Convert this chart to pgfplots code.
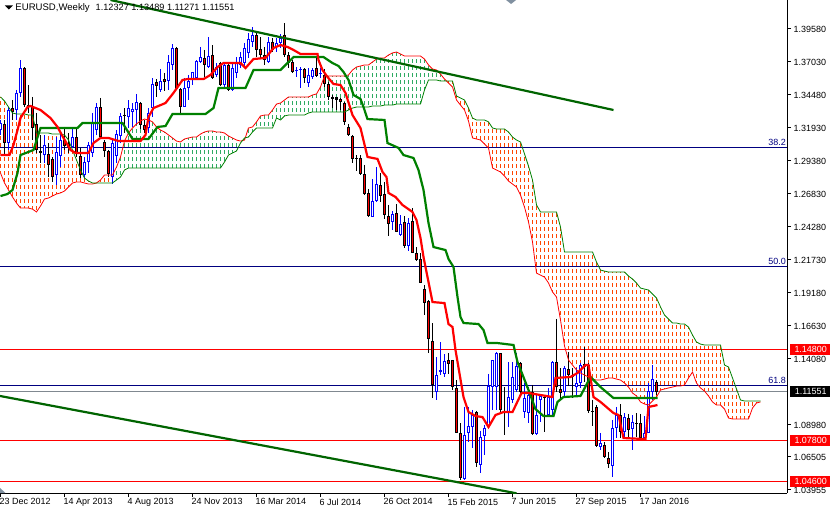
\documentclass[border=0pt]{standalone}
\usepackage{fontspec}
\setmainfont{Liberation Sans}
\usepackage{pgfplots}
\usepackage{pgfplotstable}
\pgfplotsset{compat=1.18}
\definecolor{trend}{HTML}{006400}
\definecolor{kijun}{HTML}{008000}
\definecolor{hatchg}{HTML}{2EAB62}
\definecolor{hatcho}{HTML}{FF4500}
\definecolor{marker}{HTML}{8090A0}
\definecolor{navy}{HTML}{000080}
\definecolor{lastline}{HTML}{808890}
\pgfplotstableread{
i t b h l
0 1.3232 1.3177 1.3255 1.3139
2 1.3332 1.3077 1.3355 1.3023
4 1.3464 1.3332 1.3487 1.3255
5 1.3656 1.3464 1.3718 1.3433
11 1.3062 1.2984 1.3139 1.2923
14 1.3008 1.2829 1.3123 1.2752
15 1.3100 1.2977 1.3154 1.2891
18 1.3123 1.3046 1.3193 1.3039
21 1.2930 1.2829 1.2969 1.2806
22 1.3062 1.2930 1.3085 1.2845
23 1.3240 1.3000 1.3309 1.2969
24 1.3355 1.3177 1.3386 1.3139
28 1.3077 1.2814 1.3100 1.2760
29 1.3146 1.2977 1.3177 1.2923
30 1.3286 1.3131 1.3309 1.3077
32 1.3347 1.3278 1.3409 1.3193
33 1.3340 1.3317 1.3386 1.3201
34 1.3394 1.3332 1.3456 1.3216
37 1.3309 1.3193 1.3347 1.3154
38 1.3533 1.3347 1.3579 1.3278
40 1.3556 1.3487 1.3649 1.3471
42 1.3703 1.3556 1.3757 1.3487
43 1.3811 1.3680 1.3842 1.3641
46 1.3502 1.3355 1.3579 1.3355
47 1.3556 1.3502 1.3603 1.3409
48 1.3626 1.3564 1.3626 1.3525
49 1.3711 1.3579 1.3718 1.3564
50 1.3741 1.3703 1.3819 1.3695
52 1.3749 1.3664 1.3896 1.3656
54 1.3664 1.3603 1.3695 1.3587
56 1.3680 1.3525 1.3695 1.3510
58 1.3656 1.3487 1.3695 1.3479
59 1.3695 1.3618 1.3741 1.3579
60 1.3741 1.3680 1.3780 1.3656
61 1.3811 1.3695 1.3850 1.3672
62 1.3881 1.3773 1.3927 1.3734
63 1.3912 1.3858 1.3973 1.3819
67 1.3858 1.3703 1.3896 1.3695
69 1.3850 1.3819 1.3888 1.3780
70 1.3888 1.3850 1.3919 1.3811
74 1.3641 1.3633 1.3664 1.3587
75 1.3649 1.3641 1.3664 1.3502
77 1.3603 1.3541 1.3656 1.3510
78 1.3641 1.3587 1.3656 1.3571
80 1.3618 1.3610 1.3656 1.3579
93 1.2629 1.2505 1.2799 1.2505
94 1.2760 1.2629 1.2891 1.2621
98 1.2528 1.2467 1.2551 1.2405
100 1.2451 1.2366 1.2520 1.2358
102 1.2459 1.2281 1.2497 1.2242
109 1.1284 1.1153 1.1423 1.1091
110 1.1323 1.1307 1.1539 1.1284
111 1.1392 1.1292 1.1446 1.1269
116 1.0820 1.0480 1.1037 1.0473
117 1.0890 1.0836 1.1037 1.0766
118 1.0975 1.0882 1.1014 1.0720
120 1.0805 1.0588 1.0851 1.0527
121 1.0874 1.0813 1.0898 1.0666
122 1.1199 1.0882 1.1292 1.0874
123 1.1400 1.1191 1.1400 1.1014
124 1.1454 1.1191 1.1462 1.1014
127 1.1114 1.0998 1.1384 1.0882
128 1.1269 1.1091 1.1384 1.1068
129 1.1353 1.1168 1.1454 1.1153
131 1.1106 1.0998 1.1222 1.0952
132 1.1129 1.0990 1.1191 1.0913
134 1.0975 1.0828 1.1129 1.0820
135 1.1122 1.1091 1.1122 1.0921
137 1.1114 1.0975 1.1184 1.0959
138 1.1384 1.1014 1.1392 1.0975
141 1.1338 1.1153 1.1354 1.1114
144 1.1222 1.1191 1.1338 1.1114
145 1.1361 1.1222 1.1377 1.1184
150 1.0758 1.0727 1.0836 1.0704
153 1.0874 1.0581 1.0936 1.0496
154 1.0975 1.0874 1.1037 1.0797
156 1.0959 1.0844 1.0990 1.0797
158 1.0921 1.0867 1.0975 1.0704
161 1.0836 1.0797 1.0967 1.0789
162 1.1160 1.0836 1.1222 1.0836
163 1.1253 1.1153 1.1361 1.1091
}\upbars
\pgfplotstableread{
i t b h l
1 1.3224 1.3077 1.3255 1.2984
3 1.3347 1.3317 1.3409 1.3255
6 1.3656 1.3370 1.3664 1.3355
7 1.3370 1.3355 1.3525 1.3309
8 1.3355 1.3193 1.3433 1.3100
9 1.3224 1.3023 1.3309 1.3000
10 1.3015 1.3000 1.3139 1.2923
12 1.2992 1.2907 1.3077 1.2814
13 1.2954 1.2814 1.2969 1.2776
16 1.3100 1.3054 1.3201 1.3023
17 1.3077 1.3046 1.3154 1.3000
19 1.3123 1.2992 1.3193 1.2969
20 1.2977 1.2829 1.3039 1.2806
25 1.3355 1.3123 1.3425 1.3123
26 1.3085 1.3015 1.3100 1.2969
27 1.3015 1.2837 1.3023 1.2814
31 1.3293 1.3286 1.3347 1.3154
35 1.3386 1.3216 1.3394 1.3185
36 1.3216 1.3177 1.3255 1.3154
39 1.3548 1.3517 1.3571 1.3433
41 1.3571 1.3548 1.3618 1.3479
44 1.3811 1.3494 1.3819 1.3487
45 1.3494 1.3355 1.3502 1.3309
51 1.3734 1.3680 1.3796 1.3587
53 1.3757 1.3579 1.3834 1.3571
55 1.3695 1.3525 1.3703 1.3517
57 1.3680 1.3487 1.3695 1.3479
64 1.3912 1.3796 1.3935 1.3741
65 1.3803 1.3757 1.3896 1.3734
66 1.3757 1.3718 1.3819 1.3680
68 1.3858 1.3796 1.3888 1.3780
71 1.3912 1.3757 1.4004 1.3741
72 1.3757 1.3695 1.3780 1.3656
73 1.3703 1.3626 1.3718 1.3618
76 1.3649 1.3579 1.3656 1.3541
79 1.3656 1.3595 1.3741 1.3587
81 1.3603 1.3533 1.3649 1.3510
82 1.3533 1.3433 1.3548 1.3409
83 1.3433 1.3417 1.3448 1.3347
84 1.3429 1.3413 1.3433 1.3332
85 1.3417 1.3394 1.3425 1.3332
86 1.3386 1.3240 1.3394 1.3216
87 1.3201 1.3139 1.3224 1.3131
88 1.3131 1.2954 1.3139 1.2923
89 1.2961 1.2954 1.2984 1.2860
90 1.2961 1.2837 1.2984 1.2829
91 1.2837 1.2683 1.2907 1.2675
92 1.2691 1.2513 1.2722 1.2505
95 1.2752 1.2668 1.2845 1.2621
96 1.2683 1.2520 1.2776 1.2490
97 1.2513 1.2451 1.2598 1.2358
99 1.2536 1.2389 1.2605 1.2389
101 1.2467 1.2281 1.2513 1.2266
103 1.2474 1.2227 1.2574 1.2227
104 1.2227 1.2173 1.2273 1.2165
105 1.2181 1.1995 1.2227 1.1995
106 1.1949 1.1840 1.1980 1.1748
107 1.1856 1.1562 1.1864 1.1454
108 1.1547 1.1207 1.1686 1.1106
112 1.1400 1.1369 1.1454 1.1292
113 1.1400 1.1191 1.1400 1.1168
114 1.1184 1.0836 1.1245 1.0836
115 1.0836 1.0488 1.0913 1.0473
119 1.0998 1.0604 1.1006 1.0573
125 1.1454 1.1014 1.1454 1.0998
126 1.0998 1.0990 1.1191 1.0820
130 1.1377 1.1153 1.1384 1.1145
133 1.1153 1.0828 1.1207 1.0820
136 1.1114 1.1106 1.1114 1.0843
139 1.1384 1.1191 1.1717 1.1153
140 1.1176 1.1145 1.1338 1.1099
142 1.1330 1.1284 1.1462 1.1199
143 1.1284 1.1269 1.1338 1.1106
146 1.1369 1.1346 1.1500 1.1230
147 1.1361 1.1006 1.1377 1.0990
148 1.1006 1.0998 1.1091 1.0890
149 1.1037 1.0735 1.1052 1.0727
151 1.0743 1.0650 1.0766 1.0642
152 1.0642 1.0596 1.0689 1.0565
155 1.0975 1.0844 1.1060 1.0797
157 1.0952 1.0859 1.0983 1.0797
159 1.0913 1.0905 1.0990 1.0805
160 1.0913 1.0797 1.0983 1.0797
164 1.1230 1.1155 1.1245 1.1129
}\downbars
\pgfplotstableread{
i a b
0 1.2845 1.3433
1 1.2768 1.3402
2 1.2714 1.3355
3 1.2660 1.3309
4 1.2613 1.3301
5 1.2574 1.3301
6 1.2574 1.3301
7 1.2574 1.3293
8 1.2566 1.3293
9 1.2544 1.3154
10 1.2590 1.3154
11 1.2644 1.3154
12 1.2652 1.3154
13 1.2668 1.3146
14 1.2683 1.3146
15 1.2691 1.3146
16 1.2706 1.3139
17 1.2737 1.3100
18 1.2768 1.3023
19 1.2776 1.2946
20 1.2776 1.2868
21 1.2768 1.2806
22 1.2760 1.2783
23 1.2760 1.2768
24 1.2768 1.2768
25 1.2791 1.2768
26 1.2829 1.2768
27 1.2829 1.2768
28 1.2829 1.2768
29 1.2891 1.2791
30 1.2969 1.2814
31 1.3092 1.2868
32 1.3154 1.2884
33 1.3193 1.2884
34 1.3224 1.2884
35 1.3247 1.2884
36 1.3262 1.2884
37 1.3255 1.2884
38 1.3240 1.2884
39 1.3201 1.2884
40 1.3177 1.2884
41 1.3162 1.2884
42 1.3139 1.2884
43 1.3116 1.2884
44 1.3092 1.2884
45 1.3085 1.2884
46 1.3108 1.2884
47 1.3116 1.2884
48 1.3123 1.2884
49 1.3123 1.2884
50 1.3146 1.2884
51 1.3162 1.2884
52 1.3170 1.2884
53 1.3170 1.2884
54 1.3162 1.2884
55 1.3162 1.2884
56 1.3154 1.2930
57 1.3131 1.2984
58 1.3116 1.3000
59 1.3100 1.3015
60 1.3092 1.3077
61 1.3100 1.3116
62 1.3193 1.3123
63 1.3201 1.3162
64 1.3240 1.3193
65 1.3286 1.3193
66 1.3293 1.3193
67 1.3293 1.3193
68 1.3332 1.3193
69 1.3378 1.3270
70 1.3386 1.3255
71 1.3409 1.3286
72 1.3433 1.3293
73 1.3433 1.3293
74 1.3433 1.3293
75 1.3433 1.3293
76 1.3433 1.3293
77 1.3433 1.3309
78 1.3448 1.3317
79 1.3456 1.3317
80 1.3510 1.3317
81 1.3595 1.3317
82 1.3595 1.3317
83 1.3595 1.3317
84 1.3595 1.3317
85 1.3595 1.3317
86 1.3595 1.3317
87 1.3603 1.3332
88 1.3641 1.3347
89 1.3664 1.3355
90 1.3672 1.3355
91 1.3680 1.3355
92 1.3680 1.3355
93 1.3703 1.3363
94 1.3726 1.3363
95 1.3734 1.3363
96 1.3734 1.3370
97 1.3757 1.3370
98 1.3773 1.3370
99 1.3780 1.3378
100 1.3765 1.3378
101 1.3749 1.3378
102 1.3749 1.3378
103 1.3749 1.3378
104 1.3749 1.3378
105 1.3749 1.3378
106 1.3726 1.3487
107 1.3680 1.3564
108 1.3649 1.3564
109 1.3641 1.3564
110 1.3610 1.3556
111 1.3571 1.3556
112 1.3541 1.3556
113 1.3510 1.3556
114 1.3409 1.3440
115 1.3370 1.3425
116 1.3332 1.3409
117 1.3247 1.3347
118 1.3116 1.3270
119 1.3108 1.3255
120 1.3100 1.3255
121 1.3069 1.3255
122 1.3039 1.3240
123 1.2884 1.3193
124 1.2868 1.3185
125 1.2853 1.3185
126 1.2822 1.3185
127 1.2783 1.3162
128 1.2760 1.3123
129 1.2737 1.3100
130 1.2675 1.3085
131 1.2582 1.2992
132 1.2467 1.2899
133 1.2312 1.2791
134 1.2072 1.2598
135 1.2056 1.2544
136 1.2041 1.2544
137 1.1995 1.2544
138 1.1926 1.2544
139 1.1887 1.2544
140 1.1709 1.2428
141 1.1508 1.2235
142 1.1400 1.2235
143 1.1361 1.2235
144 1.1323 1.2235
145 1.1300 1.2235
146 1.1284 1.2235
147 1.1269 1.2235
148 1.1253 1.2235
149 1.1245 1.2157
150 1.1245 1.2095
151 1.1253 1.2087
152 1.1261 1.2080
153 1.1261 1.2080
154 1.1253 1.2080
155 1.1245 1.2080
156 1.1222 1.2080
157 1.1191 1.2049
158 1.1145 1.2026
159 1.1122 1.1995
160 1.1076 1.1956
161 1.1060 1.1948
162 1.1052 1.1941
163 1.1083 1.1910
164 1.1114 1.1879
165 1.1168 1.1810
166 1.1176 1.1748
167 1.1184 1.1717
168 1.1191 1.1686
169 1.1199 1.1686
170 1.1199 1.1678
171 1.1207 1.1678
172 1.1261 1.1655
173 1.1307 1.1593
174 1.1222 1.1539
175 1.1184 1.1523
176 1.1160 1.1516
177 1.1122 1.1516
178 1.1076 1.1516
179 1.1052 1.1516
180 1.1052 1.1516
181 1.1021 1.1361
182 1.0952 1.1346
183 1.0944 1.1261
184 1.0944 1.1176
185 1.0944 1.1091
186 1.0944 1.1083
187 1.0944 1.1083
188 1.1029 1.1083
189 1.1068 1.1083
190 1.1076 1.1083
}\cloud
\begin{document}
\fontsize{9}{10.5}\selectfont
\begin{tikzpicture}
\useasboundingbox (0,-18bp) rectangle (830bp,493bp);
\begin{axis}[
  at={(0,0)}, anchor=south west,
  scale only axis, width=787bp, height=493bp,
  xmin=-0.125, xmax=196.625, ymin=1.03723, ymax=1.41821,
  axis x line=bottom, axis y line=right,
  axis line style={-, black, line width=1bp},
  clip mode=individual,
  tick align=outside, major tick length=4bp,
  tick style={black, line width=1bp},
  xtick={0,16,32,48,64,80,96,112,128,144,160},
  xticklabels={23 Dec 2012,14 Apr 2013,4 Aug 2013,24 Nov 2013,16 Mar 2014,6 Jul 2014,26 Oct 2014,15 Feb 2015,7 Jun 2015,27 Sep 2015,17 Jan 2016},
  xticklabel style={anchor=north west, xshift=-1bp, yshift=1.5bp, inner xsep=0pt, font=\fontsize{9}{10.5}\selectfont},
  ytick={1.3958,1.3703,1.3448,1.3193,1.2938,1.2683,1.2428,1.2173,1.1918,1.1663,1.1408,1.0898,1.06505,1.03955},
  yticklabel style={anchor=west, xshift=0bp, inner xsep=2.5bp, font=\fontsize{9}{10.5}\selectfont,
    /pgf/number format/fixed, /pgf/number format/precision=5, /pgf/number format/fixed zerofill, /pgf/number format/assume math mode=true},
  scaled y ticks=false,
]
% cloud hatching: columns, then white rows that cut them into dashes on one grid
\addplot[draw=none, forget plot, restrict x to domain=0:28, error bars/.cd, y dir=minus, y explicit, error mark=none,
  error bar style={draw=hatcho, line width=1bp}]
  table[x=i, y=b, y error minus expr=\thisrow{b}-\thisrow{a}] {\cloud};
\addplot[draw=none, forget plot, restrict x to domain=29:111, error bars/.cd, y dir=minus, y explicit, error mark=none,
  error bar style={draw=hatchg, line width=1bp}]
  table[x=i, y=a, y error minus expr=\thisrow{a}-\thisrow{b}] {\cloud};
\addplot[draw=none, forget plot, restrict x to domain=112:190, error bars/.cd, y dir=minus, y explicit, error mark=none,
  error bar style={draw=hatcho, line width=1bp}]
  table[x=i, y=b, y error minus expr=\thisrow{b}-\thisrow{a}] {\cloud};
\pgfplotsinvokeforeach{0,...,70}{
  \draw[white, line width=3.5bp] (rel axis cs:0,{1-(7*#1+1.5)/493}) -- (rel axis cs:0.97,{1-(7*#1+1.5)/493});
}
% horizontal levels
\addplot[navy, line width=1bp, forget plot] coordinates {(-0.125,1.3042) (196.625,1.3042)};
\addplot[navy, line width=1bp, forget plot] coordinates {(-0.125,1.2123) (196.625,1.2123)};
\addplot[navy, line width=1bp, forget plot] coordinates {(-0.125,1.1203) (196.625,1.1203)};
\addplot[lastline, line width=1bp, forget plot] coordinates {(-0.125,1.1157) (196.625,1.1157)};
\addplot[red, line width=1bp, forget plot] coordinates {(-0.125,1.1481) (196.625,1.1481)};
\addplot[red, line width=1bp, forget plot] coordinates {(-0.125,1.0778) (196.625,1.0778)};
\addplot[red, line width=1bp, forget plot] coordinates {(-0.125,1.0461) (196.625,1.0461)};
% candles: wicks
\addplot[draw=none, forget plot, error bars/.cd, y dir=minus, y explicit, error mark=none,
  error bar style={draw=blue, line width=1bp}]
  table[x=i, y=h, y error minus expr=\thisrow{h}-\thisrow{l}] {\upbars};
\addplot[draw=none, forget plot, error bars/.cd, y dir=minus, y explicit, error mark=none,
  error bar style={draw=black, line width=1bp}]
  table[x=i, y=h, y error minus expr=\thisrow{h}-\thisrow{l}] {\downbars};
% candles: bodies
\addplot[draw=none, forget plot, error bars/.cd, y dir=minus, y explicit, error mark=none,
  error bar style={draw=blue, line width=3bp}]
  table[x=i, y=t, y error minus expr=\thisrow{t}-\thisrow{b}] {\upbars};
\addplot[draw=none, forget plot, error bars/.cd, y dir=minus, y explicit, error mark=none,
  error bar style={draw=white, line width=1bp}]
  table[x=i, y expr=\thisrow{t}-0.0008, y error minus expr={max(\thisrow{t}-\thisrow{b}-0.0016,0)}] {\upbars};
\addplot[draw=none, forget plot, error bars/.cd, y dir=minus, y explicit, error mark=none,
  error bar style={draw=black, line width=3bp}]
  table[x=i, y=t, y error minus expr=\thisrow{t}-\thisrow{b}] {\downbars};
\addplot[draw=none, forget plot, error bars/.cd, y dir=minus, y explicit, error mark=none,
  error bar style={draw=red, line width=1.15bp}]
  table[x=i, y expr=\thisrow{t}-0.0008, y error minus expr={max(\thisrow{t}-\thisrow{b}-0.0016,0)}] {\downbars};
% senkou spans
\addplot[red, line width=0.8bp, forget plot] table[x=i, y=a] {\cloud};
\addplot[kijun, line width=0.8bp, forget plot] table[x=i, y=b] {\cloud};
% kijun
\addplot[kijun, line width=2.2bp, forget plot] coordinates {
(0,1.2667)(1.75,1.2683)(3,1.2714)(4.25,1.2845)(5,1.2984)(8.25,1.3023)(10,1.3193)(19.25,1.3193)(20.5,1.3232)(30.5,1.3232)(33,1.3108)(37,1.3108)(39.25,1.3201)(41.25,1.3208)(43,1.3301)(51.25,1.3301)(53.25,1.3347)(54.5,1.3502)(61.25,1.3502)(63.25,1.3641)(70,1.3641)(73.25,1.3741)(80.75,1.3741)(83,1.3695)(84.5,1.3672)(85.75,1.3626)(87,1.3564)(88.25,1.3448)(90,1.3417)(90.75,1.3355)(91.75,1.3262)(96,1.3255)(96.75,1.3077)(99.5,1.3039)(100.75,1.2984)(103.25,1.2961)(104.5,1.2868)(105.75,1.2714)(107,1.2459)(108.25,1.2273)(111.25,1.2250)(112,1.2181)(113.25,1.2119)(114.25,1.1887)(115,1.1732)(115.75,1.1686)(119.5,1.1678)(120.75,1.1632)(121.75,1.1531)(124.25,1.1531)(128.25,1.1516)(129.25,1.1384)(130.25,1.1307)(132,1.1168)(133.75,1.1021)(135.75,1.0967)(138.25,1.0967)(139.25,1.1076)(140.75,1.1114)(145,1.1122)(147.5,1.1269)(150,1.1191)(153.25,1.1106)(164.25,1.1106)};
% tenkan
\addplot[red, line width=2.2bp, forget plot] coordinates {
(0,1.2984)(2.25,1.2984)(3.25,1.3062)(4.25,1.3177)(5,1.3270)(6.75,1.3355)(7.5,1.3363)(10,1.3332)(12.5,1.3270)(14.25,1.3201)(15.75,1.3116)(17.5,1.3023)(18.75,1.3000)(22,1.3000)(23.25,1.3077)(25,1.3116)(27,1.3116)(29.5,1.3092)(35,1.3092)(36.25,1.3139)(37,1.3278)(38.25,1.3347)(41.25,1.3386)(43.25,1.3464)(45.5,1.3564)(46.75,1.3571)(50.75,1.3571)(52.5,1.3603)(54.25,1.3664)(55.75,1.3695)(60,1.3695)(61.25,1.3656)(63.25,1.3726)(66.25,1.3734)(68.25,1.3811)(70,1.3834)(71.75,1.3819)(73.25,1.3796)(75,1.3765)(79.25,1.3765)(79.5,1.3718)(80.5,1.3641)(81.75,1.3587)(83.25,1.3533)(85,1.3525)(86.25,1.3464)(88,1.3293)(90,1.3193)(91.75,1.2969)(94.25,1.2954)(95.5,1.2853)(96.5,1.2814)(97,1.2691)(98.75,1.2660)(100.5,1.2598)(103,1.2544)(104,1.2482)(105,1.2343)(105.75,1.2196)(106.75,1.2041)(108,1.1848)(111,1.1840)(112,1.1678)(113,1.1655)(113.75,1.1477)(115.75,1.1114)(117,1.0998)(118.75,1.0967)(120.5,1.0959)(122,1.0882)(123.75,1.0975)(125.75,1.0998)(128,1.0998)(130.25,1.1145)(132,1.1145)(138,1.1114)(138.75,1.1261)(142.5,1.1269)(144.25,1.1300)(146.25,1.1361)(147,1.1361)(148.25,1.1114)(150,1.1076)(153.25,1.0990)(154.5,1.0975)(155.75,1.0797)(161.25,1.0789)(162,1.1037)(164.25,1.1052)};
% trend lines
\addplot[trend, line width=2.2bp, forget plot] coordinates {(27.5,1.4182)(153.25,1.3332)};
\addplot[trend, line width=2.2bp, forget plot] coordinates {(-0.125,1.1122)(129,1.0370)};
% header and labels
\node[anchor=west, inner sep=0pt, text=black] at (axis cs:3.7,1.4120) {\fontsize{9.6}{11}\selectfont EURUSD,Weekly\hspace{6bp}\fontsize{9.2}{11}\selectfont 1.12327 1.13489 1.11271 1.11551};
\fill[black] (axis cs:1.1,1.4140) -- (axis cs:3.1,1.4140) -- (axis cs:2.1,1.4108) -- cycle;
\fill[marker] (axis cs:-0.125,1.0411) -- (axis cs:1.25,1.03723) -- (axis cs:-0.125,1.03723) -- cycle;
\fill[marker] (axis cs:126.4,1.41821) -- (axis cs:128.9,1.41821) -- (axis cs:127.65,1.4151) -- cycle;
\node[anchor=south east, inner xsep=1bp, inner ysep=1.5bp, text=navy] at (axis cs:196.625,1.3042) {38.2};
\node[anchor=south east, inner xsep=1bp, inner ysep=1.5bp, text=navy] at (axis cs:196.625,1.2123) {50.0};
\node[anchor=south east, inner xsep=1bp, inner ysep=1.5bp, text=navy] at (axis cs:196.625,1.1203) {61.8};
\node[anchor=west, fill=red, text=white, inner xsep=4bp, inner ysep=0.5bp, minimum height=10.5bp, minimum width=41bp, xshift=3bp] at (axis cs:196.625,1.1481) {1.14800};
\node[anchor=west, fill=black, text=white, inner xsep=4bp, inner ysep=0.5bp, minimum height=10.5bp, minimum width=41bp, xshift=3bp] at (axis cs:196.625,1.1157) {1.11551};
\node[anchor=west, fill=red, text=white, inner xsep=4bp, inner ysep=0.5bp, minimum height=10.5bp, minimum width=41bp, xshift=3bp] at (axis cs:196.625,1.0778) {1.07800};
\node[anchor=west, fill=red, text=white, inner xsep=4bp, inner ysep=0.5bp, minimum height=10.5bp, minimum width=41bp, xshift=3bp] at (axis cs:196.625,1.0461) {1.04600};
\end{axis}
\end{tikzpicture}
\end{document}
